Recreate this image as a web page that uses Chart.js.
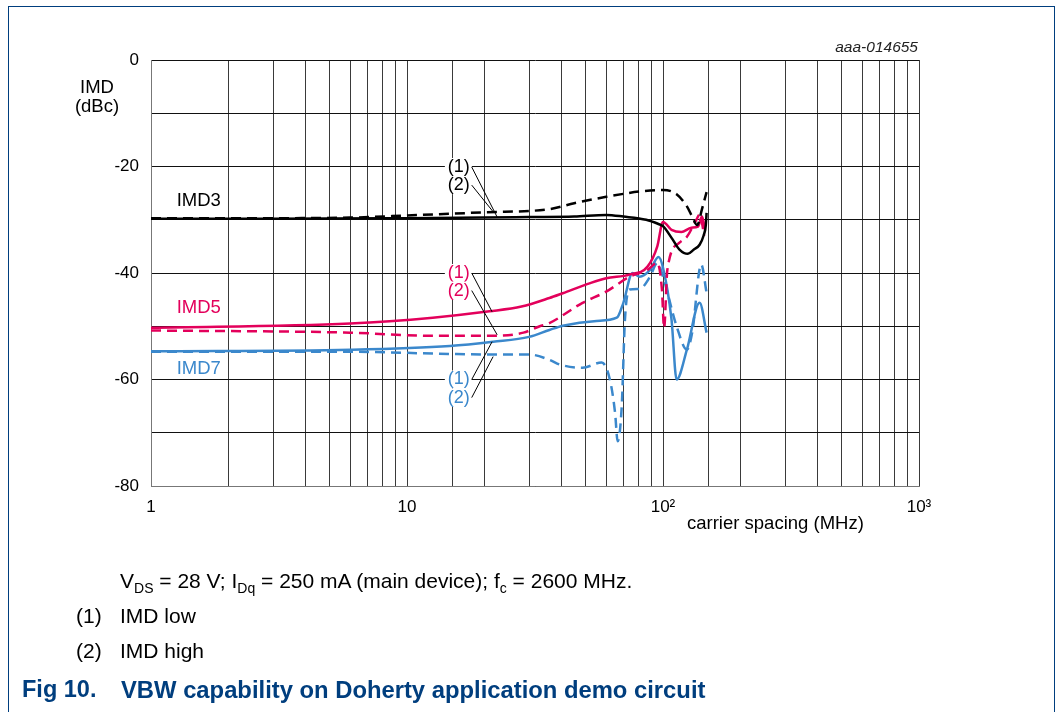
<!DOCTYPE html>
<html>
<head>
<meta charset="utf-8">
<script src="https://cdn.jsdelivr.net/npm/chart.js@4/dist/chart.umd.min.js"></script>
<style>
  body { margin: 0; background: #fff; font-family: "Liberation Sans", Arial, sans-serif; }
  #wrap { position: relative; width: 1061px; height: 712px; overflow: hidden; }
  #frame { position: absolute; left: 8px; top: 6px; width: 1045px; height: 720px; border-left: 1px solid #003e7e; border-top: 1px solid #003e7e; border-right: 1px solid #003e7e; }
  canvas { position: absolute; left: 0; top: 0; }
  .txt { position: absolute; color: #000; white-space: nowrap; line-height: 1.15; }
  sub { font-size: 14px; vertical-align: -5px; line-height: 0; }
</style>
</head>
<body>
<div id="wrap">
  <div id="frame"></div>
  <canvas id="myChart" width="1061" height="712"></canvas>
  <div class="txt" style="left:67px;top:76px;font-size:18.5px;text-align:center;width:60px;">IMD</div>
  <div class="txt" style="left:67px;top:95px;font-size:18.5px;text-align:center;width:60px;">(dBc)</div>
  <div class="txt" style="right:143px;top:38px;font-size:15.5px;font-style:italic;color:#222;">aaa-014655</div>
  <div class="txt" style="left:687px;top:512px;font-size:18.5px;">carrier spacing (MHz)</div>
  <div class="txt" style="left:120px;top:569px;font-size:21px;">V<sub>DS</sub> = 28 V; I<sub>Dq</sub> = 250 mA (main device); f<sub>c</sub> = 2600 MHz.</div>
  <div class="txt" style="left:76px;top:604px;font-size:21px;">(1)</div>
  <div class="txt" style="left:120px;top:604px;font-size:21px;">IMD low</div>
  <div class="txt" style="left:76px;top:639px;font-size:21px;">(2)</div>
  <div class="txt" style="left:120px;top:639px;font-size:21px;">IMD high</div>
  <div class="txt" style="left:22px;top:676px;font-size:23.5px;font-weight:bold;color:#003e7e;">Fig 10.</div>
  <div class="txt" style="left:121px;top:676px;font-size:23.8px;font-weight:bold;color:#003e7e;">VBW capability on Doherty application demo circuit</div>
</div>
<script>
// carrier spacing (MHz) and IMD (dBc)
let imd3LowX = [1, 3, 10, 20, 30, 45, 60, 70, 86, 96, 100, 108, 116, 125, 132, 139, 144, 147, 148]
let imd3LowY = [-29.8, -29.8, -29.7, -29.6, -29.5, -29.4, -29.1, -29.4, -30, -30.8, -31.2, -33.4, -35.6, -36.4, -35.6, -34.7, -33, -31, -28.7]

let imd3HighX = [1, 3, 6, 10, 20, 36, 45, 60, 81, 100, 113, 124, 130, 136, 142, 148]
let imd3HighY = [-29.7, -29.7, -29.6, -29.2, -28.6, -28, -26.9, -25.7, -24.7, -24.4, -25.2, -27.5, -29.4, -31, -28, -24.8]

let imd5LowX = [1, 6, 12.6, 21, 28, 36, 40.6, 52, 60, 74, 87, 95, 100, 108, 118, 129, 137, 142, 146]
let imd5LowY = [-50.3, -49.5, -48.4, -47.2, -46.3, -44.7, -43.8, -41.9, -41, -40.3, -38.8, -35, -30.4, -31.9, -32.3, -31.5, -31.3, -29.4, -31.9]

let imd5HighX = [1, 6, 12.6, 21.7, 28.5, 33, 36, 48.5, 60, 74, 87, 95, 99, 101, 104, 116, 124, 135, 139, 145]
let imd5HighY = [-50.8, -51.2, -51.8, -51.8, -51.2, -50, -49.4, -45.6, -43.5, -40.7, -39.4, -38.1, -43, -50.3, -39.4, -34.3, -33.2, -30, -29, -33]

let imd7LowX = [1, 6, 14.7, 21.7, 30, 36, 40.6, 55, 66, 70, 76, 81, 89, 96, 100, 108, 113, 124, 139, 148]
let imd7LowY = [-54.7, -54.4, -53.7, -52.9, -52, -50.7, -49.9, -49, -48.4, -45.6, -40, -40.7, -39.4, -37, -39, -48.8, -60, -54.4, -45.6, -51.2]

let imd7HighX = [1, 6, 14.7, 21.7, 30, 36, 39.6, 48.5, 57.6, 62, 65, 66.5, 69, 71, 74, 81, 89, 95, 100, 113, 124, 130, 141, 148]
let imd7HighY = [-54.8, -54.8, -55.2, -55.3, -55.3, -56.3, -57.2, -57.8, -56.8, -60, -66.3, -71.6, -65, -48.8, -43.1, -43, -40.7, -38.1, -40.7, -50, -54.4, -51.2, -38.4, -43.7]

// curve names and (1)/(2) callouts, in data units
let seriesNames = ['IMD3', 'IMD5', 'IMD7']
let seriesNameY = [-26.4, -46.5, -58]
let calloutText = ['(1)', '(2)', '(1)', '(2)', '(1)', '(2)']
let calloutY = [-20.1, -23.5, -40, -43.3, -60, -63.4]
let calloutEndX = [22.5, 21.7, 21.5, 22.5, 21.5, 21.7]
let calloutEndY = [-29.5, -28.5, -47.3, -51.6, -52.9, -55.7]

let black = '#000000'
let pink = '#e3005b'
let blue = '#3b88cc'
let colors = [black, pink, blue]

function pts(xs, ys) {
    return xs.map(function (x, i) { return { x: x, y: ys[i] } })
}

function line(xs, ys, color, dashed) {
    return {
        data: pts(xs, ys),
        borderColor: color,
        borderWidth: 2.5,
        borderDash: dashed ? [10, 6] : [],
        pointRadius: 0,
        cubicInterpolationMode: 'monotone',
        fill: false
    }
}

let labelsPlugin = {
    id: 'labels',
    afterDatasetsDraw(chart) {
        let ctx = chart.ctx
        let xs = chart.scales.x
        let ys = chart.scales.y
        ctx.save()
        ctx.font = '18.5px "Liberation Sans", Arial, sans-serif'
        ctx.textBaseline = 'middle'
        seriesNames.forEach(function (name, i) {
            ctx.fillStyle = colors[i]
            ctx.textAlign = 'left'
            ctx.fillText(name, xs.getPixelForValue(1.26), ys.getPixelForValue(seriesNameY[i]))
        })
        ctx.font = '18px "Liberation Sans", Arial, sans-serif'
        calloutText.forEach(function (t, i) {
            let c = colors[Math.floor(i / 2)]
            let px = xs.getPixelForValue(17.6)
            let py = ys.getPixelForValue(calloutY[i])
            let w = ctx.measureText(t).width
            ctx.fillStyle = '#fff'
            ctx.fillRect(px - w - 3, py - 9, w + 5, 18)
            ctx.fillStyle = c
            ctx.textAlign = 'right'
            ctx.fillText(t, px, py)
            ctx.strokeStyle = '#000'
            ctx.lineWidth = 1
            ctx.beginPath()
            ctx.moveTo(xs.getPixelForValue(17.9), py)
            ctx.lineTo(xs.getPixelForValue(calloutEndX[i]), ys.getPixelForValue(calloutEndY[i]))
            ctx.stroke()
        })
        ctx.restore()
    }
}

let currChart = document.getElementById('myChart').getContext('2d')

Chart.defaults.font.family = '"Liberation Sans", Arial, sans-serif'
Chart.defaults.font.size = 16
Chart.defaults.color = '#000'

let lineChart = new Chart(currChart, {
    type: 'line',
    data: {
        datasets: [
            line(imd3LowX, imd3LowY, black, false),
            line(imd3HighX, imd3HighY, black, true),
            line(imd5LowX, imd5LowY, pink, false),
            line(imd5HighX, imd5HighY, pink, true),
            line(imd7LowX, imd7LowY, blue, false),
            line(imd7HighX, imd7HighY, blue, true)
        ]
    },
    options: {
        responsive: false,
        animation: false,
        layout: { padding: { top: 60, right: 142, left: 0, bottom: 0 } },
        scales: {
            x: {
                type: 'logarithmic',
                min: 1,
                max: 1000,
                afterFit: function (s) { s.height = 226 },
                grid: { color: '#3a3a3a', lineWidth: 1, drawTicks: false },
                border: { color: '#777', width: 1 },
                ticks: {
                    autoSkip: false,
                    maxRotation: 0,
                    padding: 11,
                    font: { size: 17 },
                    callback: function (v) {
                        if (v === 1) return '1'
                        if (v === 10) return '10'
                        if (v === 100) return '10\u00B2'
                        if (v === 1000) return '10\u00B3'
                        return ''
                    }
                }
            },
            y: {
                min: -80,
                max: 0,
                afterFit: function (s) { s.width = 151 },
                grid: { color: '#111', lineWidth: 1, drawTicks: false },
                border: { color: '#777', width: 1 },
                ticks: {
                    stepSize: 10,
                    padding: 12,
                    font: { size: 17 },
                    callback: function (v) { return v % 20 === 0 ? String(v) : '' }
                }
            }
        },
        plugins: {
            legend: { display: false },
            tooltip: { enabled: false }
        }
    },
    plugins: [labelsPlugin]
})
</script>
</body>
</html>
